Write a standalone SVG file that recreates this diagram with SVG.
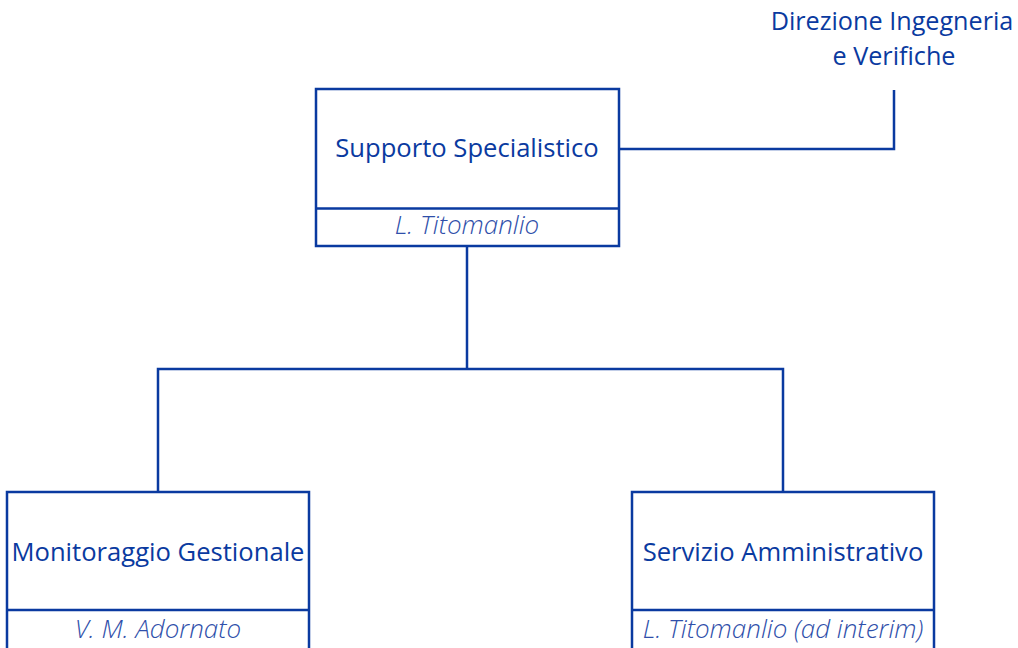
<svg xmlns="http://www.w3.org/2000/svg" width="1018" height="648" viewBox="0 0 1018 648">
<style>
.box{fill:#fff;stroke:#0a3aa0;stroke-width:2.5}
.ln{fill:none;stroke:#0a3aa0;stroke-width:2.5}
.t{font-family:"Open Sans",sans-serif;font-size:25.6px;fill:#0a3aa0;text-anchor:middle}
.h{font-family:"Open Sans",sans-serif;font-size:25.2px;fill:#0a3aa0;text-anchor:middle}
.s{font-family:"Open Sans",sans-serif;font-size:26px;font-style:italic;font-weight:300;fill:#2f4faa;text-anchor:middle}
</style>
<rect width="1018" height="648" fill="#fff"/>
<g id="connectors">
<polyline class="ln" points="619,149 894,149 894,90"/>
<polyline class="ln" points="467,246 467,369"/>
<polyline class="ln" points="158,492 158,369 783,369 783,492"/>
</g>
<g id="direzione">
<text class="h" x="892" y="30">Direzione Ingegneria</text>
<text class="h" x="894" y="65">e Verifiche</text>
</g>
<g id="supporto">
<rect class="box" x="316" y="89" width="303" height="157"/>
<line class="ln" x1="316" y1="208.5" x2="619" y2="208.5"/>
<text class="t" x="467" y="157">Supporto Specialistico</text>
<text class="s" x="467" y="234">L. Titomanlio</text>
</g>
<g id="monitoraggio">
<rect class="box" x="7" y="492" width="302" height="160"/>
<line class="ln" x1="7" y1="610" x2="309" y2="610"/>
<text class="t" x="158" y="561">Monitoraggio Gestionale</text>
<text class="s" x="158" y="638">V. M. Adornato</text>
</g>
<g id="servizio">
<rect class="box" x="632" y="492" width="302" height="160"/>
<line class="ln" x1="632" y1="610" x2="934" y2="610"/>
<text class="t" x="783" y="561">Servizio Amministrativo</text>
<text class="s" x="783" y="638">L. Titomanlio (ad interim)</text>
</g>
</svg>
